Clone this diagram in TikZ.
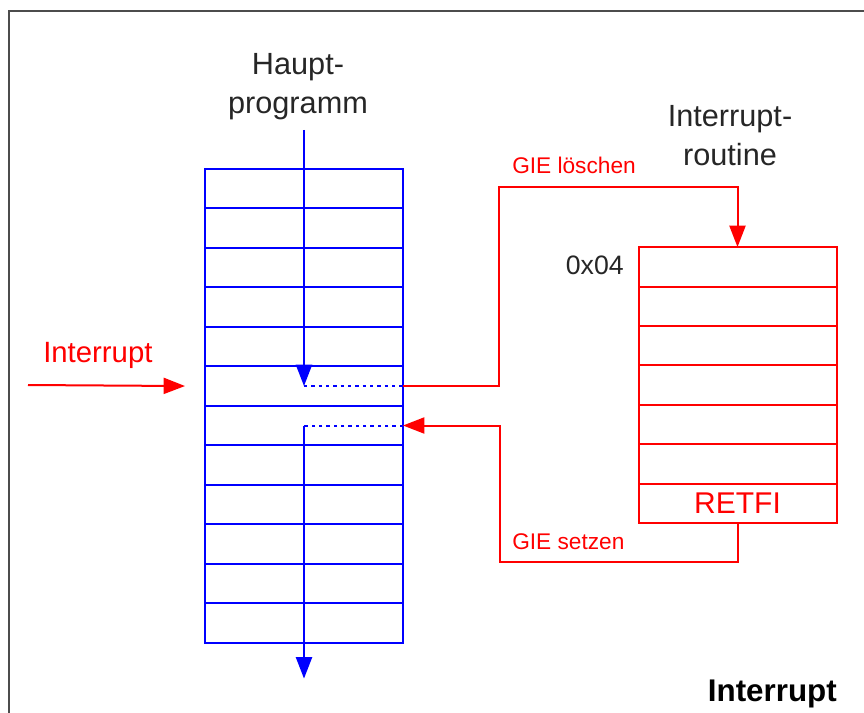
\documentclass[tikz,border=0pt]{standalone}
\usepackage{fontspec}
\setmainfont{Liberation Sans}
\usetikzlibrary{calc,positioning,arrows.meta}

\tikzset{
	cell/.style={shape=rectangle,draw,minimum width=148.5pt,minimum height=29.6pt,inner sep=0pt,outer sep=0pt,line width=1.5pt},
	flow/.style={line width=1.5pt,-{Triangle[length=16pt,width=12pt]}},
	link/.style={line width=1.5pt,dash pattern=on 2.5pt off 3pt},
	big/.style={font=\fontsize{23}{29.25}\selectfont,text=black!85,align=center},
	small/.style={font=\fontsize{17}{20}\selectfont,text=red,inner sep=0pt}
}

\begin{document}
\begin{tikzpicture}[x=0.75pt,y=-0.75pt]
		\useasboundingbox (0,0) rectangle (864,713);
		\draw [line width=1.8pt,black!70] (9,713) -- (9,11) -- (864,11);
		% Hauptprogramm
		\node(h1) [cell,draw=blue] at (304,188.7) {};
		\foreach \i [count=\j from 2] in {1,...,11}
			\node(h\j) [cell,draw=blue,below=0 of h\i] {};
		\node(hp) [big] at (298,86.5) {Haupt-\\programm};
		% Interruptroutine
		\node(r1) [cell,draw=red] at (737.5,266.8) {};
		\foreach \i [count=\j from 2] in {1,...,6}
			\node(r\j) [cell,draw=red,below=0 of r\i] {};
		\node(retfi) at (r7) [text=red,font=\fontsize{22.5}{27}\selectfont] {RETFI};
		\node(ir) [big] at (730,136) {Interrupt-\\routine};
		\node(adr) at (624,274) [anchor=base east,inner sep=0pt,text=black!85,font=\fontsize{20}{24}\selectfont] {0x04};
		% Programmfluss
		\coordinate (src) at (28,385);
		\coordinate (c1) at (499,187);
		\coordinate (c2) at (500,562);
		\draw [flow,blue] ($(h1.north)+(0,-39)$) -- (h6.center);
		\draw [link,blue] (h6.center) -- (h6.east);
		\draw [flow,red] (src) -- ($(h6.west)+(-20,0)$);
		\node(irq) at (43,362) [anchor=base west,inner sep=0pt,text=red,font=\fontsize{22}{26}\selectfont] {Interrupt};
		\draw [flow,red] (h6.east) -| (c1) -| (r1.north);
		\node(gl) at (512,174) [small,anchor=base west] {GIE löschen};
		\draw [flow,red] (r7.south) |- (c2) |- (h7.east);
		\node(gs) at (512,549) [small,anchor=base west] {GIE setzen};
		\draw [link,blue] (h7.east) -- (h7.center);
		\draw [flow,blue] (h7.center) -- ($(h12.south)+(0,36)$);
		\node(title) at (837,701) [anchor=base east,inner sep=0pt,font=\bfseries\fontsize{23.5}{28}\selectfont] {Interrupt};
	\end{tikzpicture}
\end{document}
